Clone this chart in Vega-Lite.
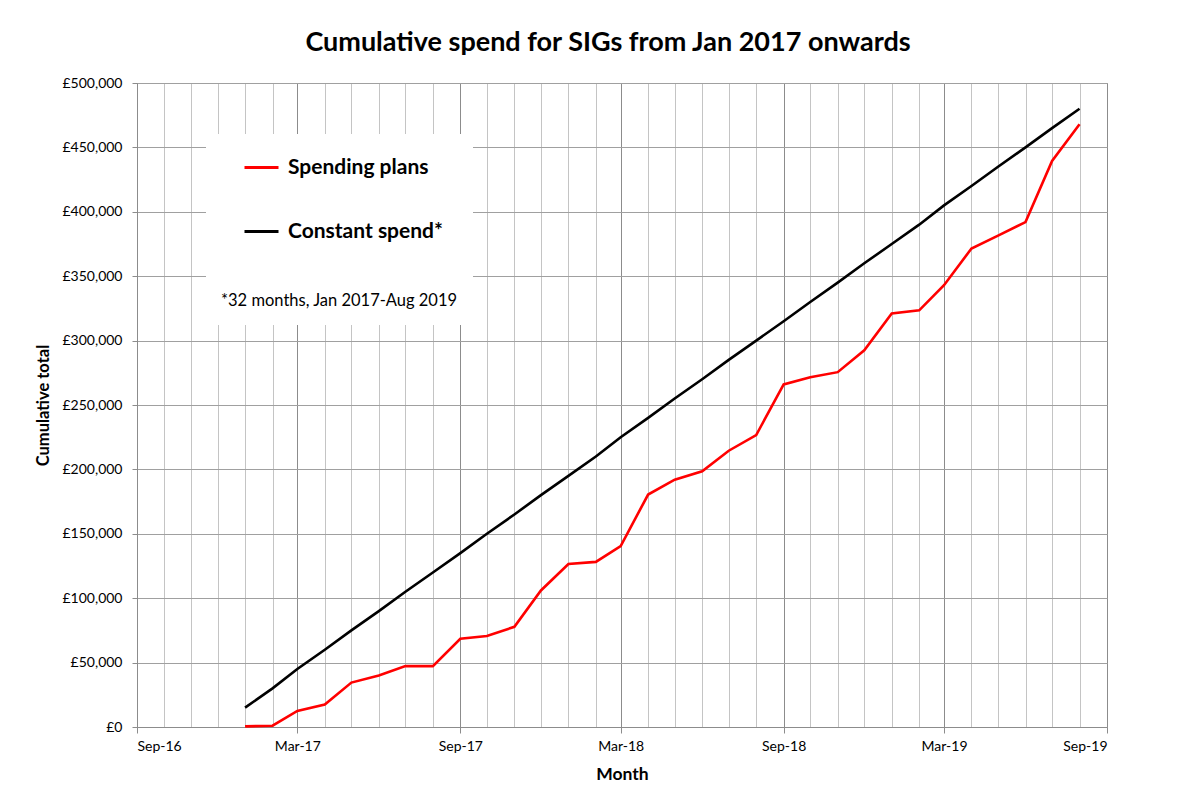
{
  "$schema": "https://vega.github.io/schema/vega-lite/v6.json",
  "width": 970,
  "height": 644,
  "autosize": {"type": "none"},
  "padding": {"left": 137, "top": 83, "right": 94, "bottom": 60},
  "background": "white",
  "config": {"view": {"stroke": "#8c8c8c"}},
  "title": {"text": "Cumulative spend for SIGs from Jan 2017 onwards", "font": "Lato", "fontSize": 27, "fontWeight": "bold", "color": "#000000", "anchor": "middle", "dx": -14, "offset": 19},
  "data": {"values": [
    {"month": "2017-01-01", "series": "Spending plans", "total": 500},
    {"month": "2017-02-01", "series": "Spending plans", "total": 1000},
    {"month": "2017-03-01", "series": "Spending plans", "total": 12500},
    {"month": "2017-04-01", "series": "Spending plans", "total": 17500},
    {"month": "2017-05-01", "series": "Spending plans", "total": 34500},
    {"month": "2017-06-01", "series": "Spending plans", "total": 40000},
    {"month": "2017-07-01", "series": "Spending plans", "total": 47300},
    {"month": "2017-08-01", "series": "Spending plans", "total": 47300},
    {"month": "2017-09-01", "series": "Spending plans", "total": 68500},
    {"month": "2017-10-01", "series": "Spending plans", "total": 70600},
    {"month": "2017-11-01", "series": "Spending plans", "total": 77800},
    {"month": "2017-12-01", "series": "Spending plans", "total": 106000},
    {"month": "2018-01-01", "series": "Spending plans", "total": 126500},
    {"month": "2018-02-01", "series": "Spending plans", "total": 128200},
    {"month": "2018-03-01", "series": "Spending plans", "total": 140500},
    {"month": "2018-04-01", "series": "Spending plans", "total": 180500},
    {"month": "2018-05-01", "series": "Spending plans", "total": 192000},
    {"month": "2018-06-01", "series": "Spending plans", "total": 198500},
    {"month": "2018-07-01", "series": "Spending plans", "total": 214500},
    {"month": "2018-08-01", "series": "Spending plans", "total": 226700},
    {"month": "2018-09-01", "series": "Spending plans", "total": 266000},
    {"month": "2018-10-01", "series": "Spending plans", "total": 271500},
    {"month": "2018-11-01", "series": "Spending plans", "total": 275500},
    {"month": "2018-12-01", "series": "Spending plans", "total": 292500},
    {"month": "2019-01-01", "series": "Spending plans", "total": 321000},
    {"month": "2019-02-01", "series": "Spending plans", "total": 323500},
    {"month": "2019-03-01", "series": "Spending plans", "total": 343000},
    {"month": "2019-04-01", "series": "Spending plans", "total": 371500},
    {"month": "2019-05-01", "series": "Spending plans", "total": 381500},
    {"month": "2019-06-01", "series": "Spending plans", "total": 392000},
    {"month": "2019-07-01", "series": "Spending plans", "total": 439500},
    {"month": "2019-08-01", "series": "Spending plans", "total": 468000},
    {"month": "2017-01-01", "series": "Constant spend*", "total": 15000},
    {"month": "2017-02-01", "series": "Constant spend*", "total": 30000},
    {"month": "2017-03-01", "series": "Constant spend*", "total": 45000},
    {"month": "2017-04-01", "series": "Constant spend*", "total": 60000},
    {"month": "2017-05-01", "series": "Constant spend*", "total": 75000},
    {"month": "2017-06-01", "series": "Constant spend*", "total": 90000},
    {"month": "2017-07-01", "series": "Constant spend*", "total": 105000},
    {"month": "2017-08-01", "series": "Constant spend*", "total": 120000},
    {"month": "2017-09-01", "series": "Constant spend*", "total": 135000},
    {"month": "2017-10-01", "series": "Constant spend*", "total": 150000},
    {"month": "2017-11-01", "series": "Constant spend*", "total": 165000},
    {"month": "2017-12-01", "series": "Constant spend*", "total": 180000},
    {"month": "2018-01-01", "series": "Constant spend*", "total": 195000},
    {"month": "2018-02-01", "series": "Constant spend*", "total": 210000},
    {"month": "2018-03-01", "series": "Constant spend*", "total": 225000},
    {"month": "2018-04-01", "series": "Constant spend*", "total": 240000},
    {"month": "2018-05-01", "series": "Constant spend*", "total": 255000},
    {"month": "2018-06-01", "series": "Constant spend*", "total": 270000},
    {"month": "2018-07-01", "series": "Constant spend*", "total": 285000},
    {"month": "2018-08-01", "series": "Constant spend*", "total": 300000},
    {"month": "2018-09-01", "series": "Constant spend*", "total": 315000},
    {"month": "2018-10-01", "series": "Constant spend*", "total": 330000},
    {"month": "2018-11-01", "series": "Constant spend*", "total": 345000},
    {"month": "2018-12-01", "series": "Constant spend*", "total": 360000},
    {"month": "2019-01-01", "series": "Constant spend*", "total": 375000},
    {"month": "2019-02-01", "series": "Constant spend*", "total": 390000},
    {"month": "2019-03-01", "series": "Constant spend*", "total": 405000},
    {"month": "2019-04-01", "series": "Constant spend*", "total": 420000},
    {"month": "2019-05-01", "series": "Constant spend*", "total": 435000},
    {"month": "2019-06-01", "series": "Constant spend*", "total": 450000},
    {"month": "2019-07-01", "series": "Constant spend*", "total": 465000},
    {"month": "2019-08-01", "series": "Constant spend*", "total": 480000}
  ]},
  "mark": {"type": "line", "strokeWidth": 2.6},
  "encoding": {
    "x": {
      "field": "month", "type": "temporal",
      "scale": {"type": "utc", "domain": [{"year": 2016, "month": 9, "date": 1, "utc": true}, {"year": 2019, "month": 9, "date": 1, "utc": true}]},
      "axis": {
        "title": "Month",
        "tickCount": {"interval": "month", "step": 1},
        "labelExpr": "utcmonth(datum.value) % 6 == 2 ? utcFormat(datum.value, '%b-%y') : ''",
        "labelOverlap": false,
        "labelFont": "Lato", "labelFontSize": 14, "labelColor": "#000000", "labelPadding": 6,
        "grid": true,
        "gridColor": {"condition": {"test": "utcmonth(datum.value) % 6 == 2", "value": "#8c8c8c"}, "value": "#c4c4c4"},
        "gridWidth": 1,
        "tickColor": "#8c8c8c",
        "tickOpacity": {"condition": {"test": "utcmonth(datum.value) % 6 == 2", "value": 1}, "value": 0},
        "tickSize": 6,
        "domainColor": "#8c8c8c",
        "titleFont": "Lato", "titleFontSize": 17.5, "titleFontWeight": "bold", "titleColor": "#000000", "titlePadding": 12
      }
    },
    "y": {
      "field": "total", "type": "quantitative",
      "scale": {"domain": [0, 500000]},
      "axis": {
        "title": "Cumulative total",
        "values": [0, 50000, 100000, 150000, 200000, 250000, 300000, 350000, 400000, 450000, 500000],
        "labelExpr": "'£' + format(datum.value, ',')",
        "labelFont": "Lato", "labelFontSize": 14, "labelColor": "#000000", "labelPadding": 10,
        "grid": true, "gridColor": "#a0a0a0",
        "tickColor": "#8c8c8c", "tickSize": 5,
        "domainColor": "#8c8c8c",
        "titleFont": "Lato", "titleFontSize": 16.5, "titleFontWeight": "bold", "titleColor": "#000000", "titlePadding": 10
      }
    },
    "color": {
      "field": "series", "type": "nominal",
      "scale": {"domain": ["Spending plans", "Constant spend*"], "range": ["#ff0000", "#000000"]},
      "legend": {
        "orient": "none", "legendX": 69, "legendY": 51,
        "title": "*32 months, Jan 2017-Aug 2019",
        "titleOrient": "bottom", "titleFont": "Lato", "titleFontSize": 16.5, "titleFontWeight": "normal", "titleColor": "#000000", "titlePadding": 51, "titleLimit": 400,
        "fillColor": "white", "padding": 15,
        "symbolType": "stroke", "symbolSize": 1156, "symbolStrokeWidth": 3, "symbolOffset": 22,
        "labelFont": "Lato", "labelFontSize": 21, "labelFontWeight": "bold", "labelColor": "#000000", "labelOffset": 8, "labelLimit": 400,
        "rowPadding": 35
      }
    }
  }
}
